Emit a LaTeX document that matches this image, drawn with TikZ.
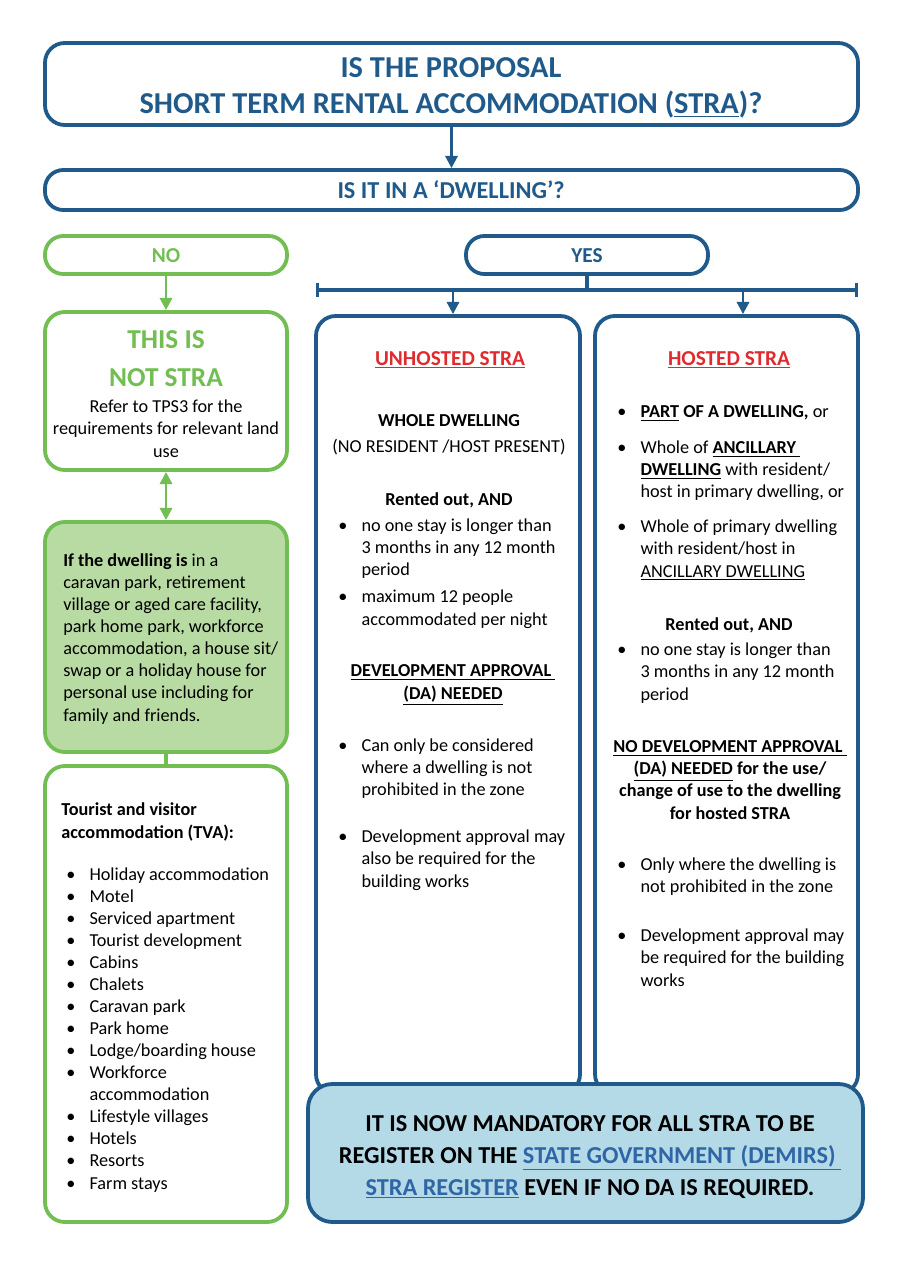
\documentclass[tikz,border=0pt]{standalone}
\usepackage{fontspec}
\setmainfont{Carlito}
\usetikzlibrary{positioning, arrows.meta, fit}

\definecolor{strablue}{HTML}{1F5A8A}
\definecolor{stragreen}{HTML}{72BE52}
\definecolor{lightgreen}{HTML}{B8DBA3}
\definecolor{lightblue}{HTML}{B4D9E7}
\definecolor{strared}{HTML}{E02A2E}
\definecolor{linkblue}{HTML}{2E66A6}

\newlength\bw
\setlength\bw{15.3pt}
\newcommand\bul{\makebox[\bw][l]{\textbullet}}
\newcommand\ind{\hspace*{\bw}}

\begin{document}
\begin{tikzpicture}[
  x=0.6582pt, y=-0.6582pt,
  box/.style={rectangle, draw, rounded corners=13pt, line width=2.5pt, inner sep=0pt},
  bluebox/.style={box, draw=strablue},
  greenbox/.style={box, draw=stragreen},
  body/.style={font=\fontsize{12}{14.5}\selectfont, inner sep=0pt},
  lefttxt/.style={body, align=left, anchor=base west},
  midtxt/.style={body, align=center, anchor=base},
  head/.style={font=\fontsize{14}{17}\selectfont\bfseries, inner sep=0pt, anchor=base},
  arr/.style={-{Triangle[width=8pt,length=8pt]}, line width=1.8pt}
]
  \useasboundingbox (0,0) rectangle (904,1280);
  % text nodes are placed at the baseline of their last line

  % question boxes
  \node[bluebox, fit={(45,43) (858,125)}] (title) {};
  \node[font=\fontsize{20}{23.7}\selectfont\bfseries, text=strablue, align=center,
        inner sep=0pt, anchor=base] (titletxt) at (451,114)
        {IS THE PROPOSAL\\SHORT TERM RENTAL ACCOMMODATION (\underline{STRA})?};
  \node[bluebox, rounded corners=12pt, fit={(45,170) (858,210)}] (dwell) {};
  \node[font=\fontsize{16}{19}\selectfont\bfseries, text=strablue, inner sep=0pt,
        anchor=base] (dwelltxt) at (451,198) {IS IT IN A ‘DWELLING’?};
  \draw[arr, strablue] (title) -- (dwell);

  % NO side
  \node[greenbox, rounded corners=12pt, fit={(45,236) (287,274)}] (no) {};
  \node[head, text=stragreen] (notxt) at (166,262) {NO};
  \node[greenbox, fit={(45,312) (287,470)}] (notstra) {};
  \node[font=\fontsize{18}{24.4}\selectfont\bfseries, text=stragreen, align=center,
        inner sep=0pt, anchor=base] (notstrahead) at (166,386) {THIS IS\\NOT STRA};
  \node[midtxt] (notstratxt) at (166,457)
        {Refer to TPS3 for the\\requirements for relevant land\\use};
  \node[greenbox, fill=lightgreen, fit={(45,522) (287,752)}] (exempt) {};
  \node[lefttxt] (exempttxt) at (63,721)
        {\textbf{If the dwelling is} in a\\caravan park, retirement\\village or aged care facility,\\park home park, workforce\\accommodation, a house sit/\\swap or a holiday house for\\personal use including for\\family and friends.};
  \node[greenbox, fit={(45,766) (287,1222)}] (tva) {};
  \node[lefttxt, font=\fontsize{12}{14.5}\selectfont\bfseries] (tvahead) at (61,838)
        {Tourist and visitor\\accommodation (TVA):};
  \node[lefttxt] (tvalist) at (66,1189)
        {\bul Holiday accommodation\\\bul Motel\\\bul Serviced apartment\\\bul Tourist development\\\bul Cabins\\\bul Chalets\\\bul Caravan park\\\bul Park home\\\bul Lodge/boarding house\\\bul Workforce\\\ind accommodation\\\bul Lifestyle villages\\\bul Hotels\\\bul Resorts\\\bul Farm stays};
  \draw[arr, stragreen] (no) -- (notstra);
  \draw[{Triangle[width=8pt,length=8pt]}-{Triangle[width=8pt,length=8pt]},
        line width=1.8pt, stragreen] (notstra) -- (exempt);
  \draw[stragreen, line width=2.5pt] (exempt) -- (tva);

  % YES side
  \node[bluebox, rounded corners=12pt, fit={(466,236) (708,274)}] (yes) {};
  \node[head, text=strablue] (yestxt) at (587,262) {YES};
  \coordinate (brl) at (316,290);
  \coordinate (brr) at (858,290);
  \coordinate (bra) at (453,290);
  \coordinate (brb) at (743,290);
  \draw[strablue, line width=2pt] (yes) -- (yes |- brl);
  \draw[{Bar[width=9pt]}-{Bar[width=9pt]}, strablue, line width=2pt] (brl) -- (brr);

  \node[bluebox, fit={(316,316) (580,1094)}] (unhosted) {};
  \node[bluebox, fit={(595,316) (858,1094)}] (hosted) {};
  \draw[arr, strablue] (bra) -- (bra |- unhosted.north);
  \draw[arr, strablue] (brb) -- (brb |- hosted.north);

  % unhosted column
  \node[head, text=strared] (unhead) at (450,365) {\underline{UNHOSTED STRA}};
  \node[midtxt] (unwhole) at (449,452)
        {\textbf{WHOLE DWELLING}\\[2.6pt](NO RESIDENT /HOST PRESENT)};
  \node[midtxt, font=\fontsize{12}{14.5}\selectfont\bfseries] (unrent) at (449,505)
        {Rented out, AND};
  \node[lefttxt] (unlist) at (338,625)
        {\bul no one stay is longer than\\\ind 3 months in any 12 month\\\ind period\\[3.3pt]\bul maximum 12 people\\\ind accommodated per night};
  \node[midtxt, font=\fontsize{12}{14.5}\selectfont\bfseries] (unda) at (453,699)
        {\underline{DEVELOPMENT APPROVAL\ }\\\underline{(DA) NEEDED}};
  \node[lefttxt] (unlist2) at (338,887)
        {\bul Can only be considered\\\ind where a dwelling is not\\\ind prohibited in the zone\\[17pt]\bul Development approval may\\\ind also be required for the\\\ind building works};

  % hosted column
  \node[head, text=strared] (hohead) at (729,365) {\underline{HOSTED STRA}};
  \node[lefttxt] (holist) at (617,577)
        {\bul \textbf{\underline{PART} OF A DWELLING,} or\\[9.2pt]\bul Whole of \textbf{\underline{ANCILLARY\ }}\\\ind \textbf{\underline{DWELLING}} with resident/\\\ind host in primary dwelling, or\\[8.6pt]\bul Whole of primary dwelling\\\ind with resident/host in\\\ind \underline{ANCILLARY DWELLING}};
  \node[midtxt, font=\fontsize{12}{14.5}\selectfont\bfseries] (horent) at (729,630)
        {Rented out, AND};
  \node[lefttxt] (holist2) at (617,700)
        {\bul no one stay is longer than\\\ind 3 months in any 12 month\\\ind period};
  \node[midtxt, font=\fontsize{12}{14.5}\selectfont\bfseries] (hoda) at (730,819)
        {\underline{NO DEVELOPMENT APPROVAL\ }\\\underline{(DA) NEEDED} for the use/\\change of use to the dwelling\\for hosted STRA};
  \node[lefttxt] (holist3) at (617,986)
        {\bul Only where the dwelling is\\\ind not prohibited in the zone\\[18pt]\bul Development approval may\\\ind be required for the building\\\ind works};

  % register note
  \node[bluebox, rounded corners=16pt, fill=lightblue, fit={(308,1084) (863,1222)}] (register) {};
  \node[font=\fontsize{16}{21}\selectfont\bfseries, align=center, inner sep=0pt,
        anchor=base] (registertxt) at (590,1195)
        {IT IS NOW MANDATORY FOR ALL STRA TO BE\\REGISTER ON THE \textcolor{linkblue}{\underline{STATE GOVERNMENT (DEMIRS)\ }}\\\textcolor{linkblue}{\underline{STRA REGISTER}} EVEN IF NO DA IS REQUIRED.};
\end{tikzpicture}
\end{document}
